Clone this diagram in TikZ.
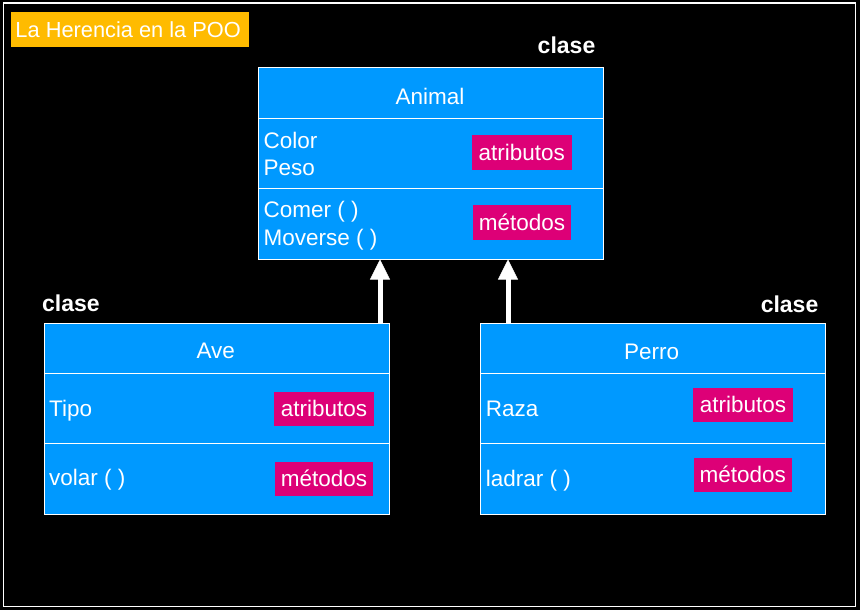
\documentclass[tikz,border=0pt]{standalone}
\usepackage{fontspec}
\setmainfont{Liberation Sans}
\usetikzlibrary{arrows.meta,calc}
\definecolor{umlblue}{HTML}{0099FF}
\definecolor{tagmag}{HTML}{DD0077}
\definecolor{titleor}{HTML}{FFBB00}
\tikzset{
  comp/.style={draw=white, line width=1pt, fill=umlblue, anchor=north west, inner sep=0pt, minimum width=345pt},
  txt/.style={text=white, inner sep=0pt, font=\fontsize{22.5}{27}\selectfont},
  cls/.style={text=white, inner sep=0pt, font=\fontsize{23}{27}\selectfont\bfseries},
  tag/.style={fill=tagmag, text=white, inner sep=0pt, font=\fontsize{22.5}{27}\selectfont},
  inh/.style={white, line width=5pt, -{Triangle[width=20pt,length=20pt,line width=0.6pt,fill=white,color=white]}}
}
\begin{document}
\begin{tikzpicture}[x=1pt,y=-1pt]
\useasboundingbox (0,0) rectangle (860,610);
\fill[black] (0,0) rectangle (860,610);
\draw[white, line width=1.5pt] (3.5,3) rectangle (855.5,606.5);

% title
\node[fill=titleor, minimum width=238pt, minimum height=35pt, inner sep=0pt] (titlebg) at (130,29.5) {};
\node[txt, anchor=base west, font=\fontsize{21.8}{26}\selectfont] (title) at (15.3,37.3) {La Herencia en la POO};

% Animal
\node[comp, minimum height=50pt] (animH) at (257.5,67.5) {};
\node[comp, minimum height=70pt] (animA) at (257.5,117.5) {};
\node[comp, minimum height=71pt] (animM) at (257.5,187.5) {};
\node[txt, anchor=base] (animName) at (430,104) {Animal};
\node[txt, anchor=base west] (animC) at (263.5,148.3) {Color};
\node[txt, anchor=base west] (animP) at (263.5,175) {Peso};
\node[txt, anchor=base west] (animCo) at (263.5,217.7) {Comer ( )};
\node[txt, anchor=base west] (animMo) at (263.5,245) {Moverse ( )};
\node[tag, minimum width=99.7pt, minimum height=34.7pt] (animTA) at (521.8,152.3) {atributos};
\node[tag, minimum width=98pt, minimum height=35pt] (animTM) at (522,222.5) {métodos};
\node[cls, anchor=base east] (clsA) at (595.5,54) {clase};

% Ave
\node[comp, minimum height=50pt] (aveH) at (43.5,322.5) {};
\node[comp, minimum height=70pt] (aveA) at (43.5,372.5) {};
\node[comp, minimum height=71pt] (aveM) at (43.5,442.5) {};
\node[txt, anchor=base] (aveName) at (215.7,358.3) {Ave};
\node[txt, anchor=base west] (aveT) at (49,416) {Tipo};
\node[txt, anchor=base west] (aveV) at (49,485.7) {volar ( )};
\node[tag, minimum width=100pt, minimum height=33.7pt] (aveTA) at (324,408.8) {atributos};
\node[tag, minimum width=98pt, minimum height=33.7pt] (aveTM) at (324,478.8) {métodos};
\node[cls, anchor=base west] (clsB) at (42,311.7) {clase};

% Perro
\node[comp, minimum height=50pt] (perH) at (479.5,322.5) {};
\node[comp, minimum height=70pt] (perA) at (479.5,372.5) {};
\node[comp, minimum height=71pt] (perM) at (479.5,442.5) {};
\node[txt, anchor=base] (perName) at (651.7,359) {Perro};
\node[txt, anchor=base west] (perR) at (485.7,416) {Raza};
\node[txt, anchor=base west] (perL) at (485.7,486) {ladrar ( )};
\node[tag, minimum width=100pt, minimum height=33.7pt] (perTA) at (743,404.8) {atributos};
\node[tag, minimum width=98.3pt, minimum height=33.7pt] (perTM) at (742.8,474.8) {métodos};
\node[cls, anchor=base east] (clsC) at (818.5,312.7) {clase};

% inheritance arrows
\draw[inh] ($(aveH.north west)+(336.5,0)$) -- ($(animM.south west)+(122.5,0)$);
\draw[inh] ($(perH.north west)+(28.5,0)$) -- ($(animM.south west)+(250.5,0)$);
\end{tikzpicture}
\end{document}
